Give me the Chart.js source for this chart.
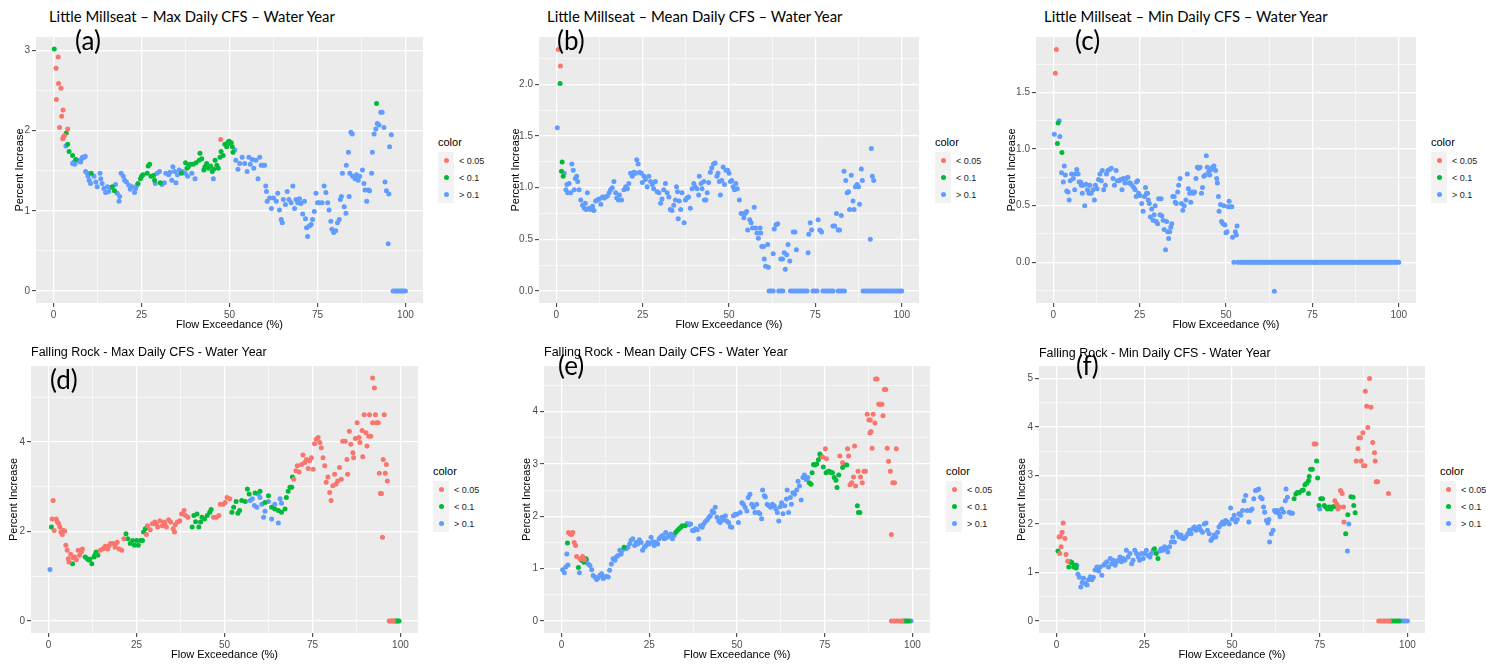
<!DOCTYPE html>
<html>
<head>
<meta charset="utf-8">
<script src="https://cdn.jsdelivr.net/npm/chart.js@4.4.1/dist/chart.umd.min.js"></script>
<style>
  body { margin: 0; width: 1486px; height: 664px; background: #fff; position: relative; overflow: hidden; font-family: "Liberation Sans", Arial, sans-serif; }
  canvas { position: absolute; }
  .ttl { position: absolute; white-space: nowrap; color: #000; line-height: 1.2; transform: translateY(-50%); }
  .ttl.lm { font-family: Lato, "Open Sans", sans-serif; font-size: 16px; }
  .ttl.fr { font-family: "Liberation Sans", Arial, sans-serif; font-size: 12px; }
  .tag { position: absolute; white-space: nowrap; font-family: Lato, "Open Sans", sans-serif; font-size: 26px; line-height: 1; color: #000; transform: translateY(-50%); }
  .legT { position: absolute; white-space: nowrap; font-size: 11px; color: #000; line-height: 1; transform: translateY(-50%); }
  .key { position: absolute; width: 16px; height: 17px; background: #F2F2F2; }
  .dot { position: absolute; width: 5px; height: 5px; border-radius: 50%; left: 5.5px; top: 6px; }
  .legL { position: absolute; white-space: nowrap; font-size: 9px; color: #222; line-height: 1; transform: translateY(-50%); }
</style>
</head>
<body>
<script>
// significance classes
const LEGEND_LABELS = ['< 0.05', '< 0.1', '> 0.1'];
const COLORS = ['#F8766D', '#00BA38', '#619CFF'];

// x axis (Flow Exceedance %)
const xTicks = [0, 25, 50, 75, 100];
const xMinor = [12.5, 37.5, 62.5, 87.5];

// y axis ticks per panel
const yTicksA = [0, 1, 2, 3];          const yMinorA = [0.5, 1.5, 2.5];
const yTicksB = [0, 0.5, 1, 1.5, 2];   const yMinorB = [0.25, 0.75, 1.25, 1.75, 2.25];
const yTicksC = [0, 0.5, 1, 1.5];      const yMinorC = [-0.25, 0.25, 0.75, 1.25, 1.75];
const yTicksD = [0, 2, 4];             const yMinorD = [1, 3, 5];
const yTicksE = [0, 1, 2, 3, 4];       const yMinorE = [0.5, 1.5, 2.5, 3.5, 4.5];
const yTicksF = [0, 1, 2, 3, 4, 5];    const yMinorF = [0.5, 1.5, 2.5, 3.5, 4.5];

// (a) Little Millseat - Max daily
const lmMaxP05 = [[0.7,2.78],[1.3,2.92],[1.4,2.59],[2.1,2.53],[0.8,2.39],[2.7,2.26],[2.3,2.18],[1.7,2.04],[4.0,2.02],[2.8,1.92],[3.1,1.94],[2.6,1.90],[47.5,1.89]];
const lmMaxP10 = [[0.2,3.02],[3.6,1.97],[4.0,1.83],[4.4,1.74],[5.4,1.69],[6.3,1.64],[10.7,1.47],[16.7,1.30],[17.3,1.25],[24.0,1.34],[24.7,1.40],[25.0,1.43],[25.4,1.45],[26.6,1.47],[26.9,1.56],[27.3,1.58],[27.7,1.43],[28.4,1.44],[28.7,1.38],[30.3,1.35],[36.3,1.47],[37.5,1.60],[37.9,1.53],[38.3,1.55],[38.8,1.58],[39.7,1.58],[40.5,1.60],[41.4,1.63],[41.6,1.72],[42.1,1.65],[42.7,1.51],[43.0,1.55],[43.5,1.59],[44.0,1.53],[44.6,1.56],[45.1,1.49],[45.5,1.52],[45.9,1.63],[46.4,1.57],[46.8,1.53],[47.3,1.67],[47.6,1.74],[48.2,1.69],[48.7,1.83],[49.2,1.80],[49.6,1.86],[49.9,1.87],[50.1,1.84],[50.5,1.85],[50.8,1.80],[51.0,1.73],[91.8,2.34]];
const lmMaxPns = [[3.5,1.81],[5.4,1.59],[5.8,1.61],[6.0,1.58],[6.8,1.63],[7.2,1.62],[7.7,1.61],[8.0,1.65],[8.2,1.67],[8.7,1.67],[9.0,1.68],[9.1,1.49],[9.6,1.47],[9.8,1.43],[10.1,1.38],[10.5,1.34],[11.5,1.43],[12.0,1.36],[12.4,1.30],[13.2,1.47],[13.4,1.40],[13.8,1.34],[14.3,1.28],[14.8,1.23],[15.3,1.30],[15.7,1.24],[16.2,1.29],[17.6,1.33],[18.1,1.22],[18.6,1.12],[18.8,1.18],[19.2,1.47],[19.8,1.43],[20.2,1.38],[20.7,1.36],[21.4,1.32],[21.8,1.27],[22.3,1.30],[23.0,1.23],[23.3,1.28],[23.7,1.32],[28.9,1.34],[29.4,1.47],[30.1,1.49],[30.8,1.33],[31.5,1.35],[31.9,1.47],[32.7,1.45],[33.1,1.48],[33.6,1.38],[33.9,1.55],[34.4,1.49],[34.8,1.35],[35.2,1.45],[35.7,1.51],[36.6,1.49],[37.4,1.47],[38.1,1.43],[39.3,1.47],[40.2,1.40],[45.4,1.40],[51.5,1.76],[51.8,1.63],[52.4,1.52],[52.9,1.59],[53.6,1.67],[54.3,1.59],[55.0,1.49],[55.5,1.67],[55.9,1.58],[56.5,1.64],[56.9,1.53],[57.5,1.63],[58.1,1.40],[58.6,1.67],[59.0,1.57],[59.5,1.57],[60.0,1.57],[60.3,1.31],[60.5,1.24],[60.7,1.12],[61.4,1.16],[61.9,1.03],[62.5,1.16],[63.3,1.12],[63.7,1.22],[64.2,1.01],[64.7,0.89],[65.0,0.85],[65.3,1.14],[65.9,1.08],[66.4,1.24],[66.9,1.14],[67.5,1.10],[68.0,1.31],[68.5,1.03],[68.9,1.14],[69.4,1.10],[69.9,1.15],[70.3,1.09],[70.8,0.96],[71.3,1.12],[71.6,0.90],[71.9,0.79],[72.2,0.68],[72.7,0.81],[73.2,0.83],[73.6,0.89],[74.1,0.99],[74.6,1.22],[75.0,1.10],[75.5,1.10],[76.3,1.10],[76.9,1.31],[77.4,1.23],[77.9,1.10],[78.3,1.01],[78.8,0.87],[79.1,0.77],[79.6,0.73],[80.2,0.75],[80.7,0.85],[81.2,0.89],[81.5,1.14],[81.8,1.18],[82.1,1.47],[82.6,1.05],[83.1,0.97],[83.2,1.57],[83.8,1.73],[84.0,1.18],[84.2,1.47],[84.5,1.98],[84.9,1.96],[85.0,1.43],[85.7,1.40],[86.1,1.45],[86.6,1.38],[87.0,1.43],[87.8,1.51],[88.2,1.34],[88.5,1.26],[89.0,1.12],[89.5,1.26],[89.8,1.25],[90.4,1.47],[90.6,1.73],[91.1,1.96],[91.6,2.02],[92.0,2.09],[92.5,2.07],[93.0,2.23],[93.4,2.23],[93.9,2.04],[94.2,1.36],[94.6,1.25],[95.1,0.59],[95.3,1.21],[95.5,1.80],[96.0,1.95],[96.5,0],[97,0],[97.5,0],[98,0],[98.5,0],[99,0],[99.5,0],[100,0]];

// (b) Little Millseat - Mean daily
const lmMeanP05 = [[0.6,2.34],[1.2,2.18]];
const lmMeanP10 = [[1.1,2.01],[1.7,1.25],[1.5,1.16],[2.0,1.11]];
const lmMeanPns = [[0.3,1.58],[2.3,1.14],[2.8,0.98],[3.1,1.03],[3.3,0.95],[3.7,1.04],[4.2,0.95],[4.5,1.23],[4.9,1.17],[5.2,0.98],[5.5,1.09],[5.9,1.11],[6.2,1.06],[6.6,0.98],[7.1,0.88],[7.6,0.83],[8.1,0.80],[8.4,0.85],[8.7,0.79],[9.0,0.95],[9.5,0.80],[10.0,0.79],[10.5,0.82],[10.9,0.78],[11.4,0.87],[11.9,0.88],[12.4,0.89],[12.9,0.84],[13.4,0.91],[13.8,0.90],[14.3,0.91],[14.8,0.92],[15.3,0.95],[15.7,0.98],[16.2,1.00],[16.7,1.06],[17.2,0.95],[17.5,0.90],[18.0,0.88],[18.3,0.93],[18.9,0.88],[19.6,0.98],[20.1,1.01],[20.6,0.99],[21.0,1.04],[21.5,1.14],[22.0,1.11],[22.5,1.15],[23.0,1.14],[23.3,1.27],[23.7,1.23],[24.1,1.15],[24.6,1.14],[24.9,1.05],[25.4,1.11],[25.8,1.08],[26.3,1.01],[26.8,1.11],[27.3,1.06],[27.8,1.03],[28.2,0.99],[28.7,1.06],[29.2,0.96],[29.7,0.95],[30.2,0.85],[30.6,0.89],[31.1,0.98],[31.6,1.04],[32.1,0.95],[32.6,0.91],[33.0,0.79],[33.5,0.78],[34.0,0.83],[34.5,0.88],[34.8,1.01],[35.1,0.96],[35.3,0.70],[35.6,0.87],[36.0,0.79],[36.4,0.95],[37.0,0.66],[37.4,0.88],[37.8,0.90],[38.3,0.91],[38.8,0.80],[39.3,0.99],[39.8,1.04],[40.2,1.01],[40.7,0.99],[41.2,0.93],[41.4,1.11],[41.9,1.04],[42.2,0.99],[42.7,1.06],[42.9,0.88],[43.3,0.88],[43.7,0.95],[44.1,1.05],[44.6,1.15],[45.0,1.19],[45.5,1.23],[46.0,1.24],[46.5,1.11],[46.8,1.14],[47.2,1.06],[47.5,0.93],[47.9,1.07],[48.3,1.20],[48.7,1.03],[49.1,1.17],[49.6,1.17],[50.0,1.14],[50.4,1.06],[50.8,1.07],[51.2,1.01],[51.6,0.98],[52.0,1.04],[52.4,0.99],[53.0,0.88],[53.5,0.75],[53.9,0.75],[54.3,0.71],[54.7,0.75],[55.1,0.77],[55.4,0.59],[56.0,0.69],[56.4,0.66],[56.8,0.61],[57.3,0.81],[57.7,0.61],[58.1,0.56],[58.5,0.51],[59.0,0.61],[59.2,0.56],[59.5,0.43],[60.0,0.43],[60.2,0.31],[60.6,0.24],[61.2,0.45],[61.4,0.23],[62.8,0.36],[63.1,0.60],[63.6,0.64],[64.1,0.65],[65.0,0.31],[65.5,0.31],[66.0,0.37],[66.3,0.21],[66.7,0.35],[67.1,0.45],[67.6,0.29],[68.6,0.57],[69.1,0.57],[69.5,0.40],[72.9,0.37],[73.1,0.55],[73.5,0.66],[73.9,0.59],[75.8,0.69],[76.3,0.59],[76.8,0.57],[80.1,0.63],[80.6,0.63],[81.1,0.75],[81.6,0.59],[82.0,0.59],[82.5,0.73],[83.3,1.16],[83.8,1.07],[84.2,0.95],[84.6,0.96],[84.9,0.79],[85.4,1.12],[85.9,0.87],[86.2,0.79],[86.6,1.01],[87.1,1.03],[87.5,1.01],[87.8,0.84],[88.3,1.18],[88.6,1.07],[90.9,0.50],[91.2,1.38],[91.5,1.11],[91.9,1.07],
  [61.6,0],[62.2,0],[62.8,0],[64.4,0],[65.0,0],[65.6,0],[67.8,0],[68.4,0],[69.0,0],[69.6,0],[70.2,0],[70.8,0],[71.4,0],[72.0,0],[72.6,0],[74.3,0],[74.9,0],[75.5,0],[77.2,0],[77.8,0],[78.4,0],[79.0,0],[79.6,0],[80.1,0],[81.6,0],[82.2,0],[82.8,0],[83.4,0],[88.8,0],[89.4,0],[90.0,0],[90.6,0],[91.2,0],[91.8,0],[92.4,0],[93.0,0],[93.6,0],[94.2,0],[94.8,0],[95.4,0],[96.0,0],[96.6,0],[97.2,0],[97.8,0],[98.4,0],[99.0,0],[99.6,0],[100,0]];

// (c) Little Millseat - Min daily
const lmMinP05 = [[0.9,1.88],[0.6,1.67]];
const lmMinP10 = [[1.4,1.23],[1.2,1.05],[2.5,0.97]];
const lmMinPns = [[0.3,1.13],[1.7,1.25],[1.9,1.11],[2.4,0.79],[2.9,0.71],[3.2,0.85],[3.5,0.77],[3.9,0.63],[4.3,0.62],[4.6,0.55],[4.9,0.72],[5.3,0.78],[5.8,0.74],[6.2,0.64],[6.4,0.78],[6.8,0.82],[7.2,0.78],[7.5,0.71],[7.9,0.71],[8.1,0.68],[8.4,0.61],[8.8,0.68],[9.1,0.50],[9.5,0.69],[9.9,0.64],[10.3,0.61],[10.6,0.68],[11.0,0.61],[11.5,0.64],[11.9,0.55],[12.2,0.68],[12.7,0.65],[13.1,0.73],[13.5,0.78],[13.9,0.72],[14.2,0.81],[14.6,0.64],[15.1,0.68],[15.4,0.78],[15.8,0.81],[16.3,0.82],[16.8,0.83],[17.3,0.74],[17.7,0.68],[18.2,0.81],[18.5,0.72],[19.0,0.72],[19.5,0.73],[19.9,0.64],[20.3,0.74],[20.7,0.70],[21.1,0.74],[21.6,0.75],[22.0,0.70],[22.3,0.70],[22.8,0.68],[23.3,0.66],[23.7,0.64],[24.1,0.71],[24.4,0.72],[24.0,0.58],[24.7,0.61],[25.1,0.59],[25.6,0.52],[26.0,0.45],[26.4,0.58],[26.7,0.66],[27.0,0.61],[27.3,0.61],[27.5,0.55],[27.8,0.52],[28.1,0.40],[28.5,0.47],[28.9,0.37],[29.2,0.42],[29.5,0.50],[29.8,0.36],[30.2,0.34],[30.5,0.56],[30.9,0.42],[31.2,0.56],[31.4,0.41],[31.8,0.37],[32.1,0.29],[32.5,0.11],[32.8,0.36],[33.1,0.27],[33.4,0.21],[33.7,0.27],[34.0,0.31],[34.3,0.34],[34.6,0.58],[35.0,0.58],[35.3,0.53],[35.6,0.52],[36.0,0.62],[36.3,0.68],[36.7,0.74],[37.1,0.52],[37.5,0.46],[37.9,0.50],[38.4,0.55],[38.8,0.78],[39.1,0.65],[39.5,0.61],[39.8,0.53],[40.2,0.62],[40.6,0.61],[40.9,0.62],[41.3,0.74],[41.7,0.84],[42.1,0.83],[42.5,0.84],[42.9,0.61],[43.2,0.66],[43.6,0.76],[44.0,0.77],[44.3,0.94],[44.6,0.84],[45.0,0.80],[45.3,0.77],[45.7,0.82],[46.1,0.84],[46.5,0.85],[47.0,0.81],[47.3,0.74],[47.5,0.70],[47.8,0.58],[48.0,0.45],[48.4,0.51],[48.7,0.36],[49.1,0.34],[49.4,0.50],[49.7,0.33],[50.0,0.26],[50.3,0.27],[50.6,0.49],[50.9,0.54],[51.3,0.49],[51.7,0.49],[51.9,0.22],[52.7,0.27],[53.0,0.24],[53.2,0.32],[64.0,-0.256],
  [52.3,0],[53.4,0],[54,0],[54.5,0],[55,0],[55.5,0],[56,0],[56.5,0],[57,0],[57.5,0],[58,0],[58.5,0],[59,0],[59.5,0],[60,0],[60.5,0],[61,0],[61.5,0],[62,0],[62.5,0],[63,0],[63.5,0],[64,0],[64.5,0],[65,0],[65.5,0],[66,0],[66.5,0],[67,0],[67.5,0],[68,0],[68.5,0],[69,0],[69.5,0],[70,0],[70.5,0],[71,0],[71.5,0],[72,0],[72.5,0],[73,0],[73.5,0],[74,0],[74.5,0],[75,0],[75.5,0],[76,0],[76.5,0],[77,0],[77.5,0],[78,0],[78.5,0],[79,0],[79.5,0],[80,0],[80.5,0],[81,0],[81.5,0],[82,0],[82.5,0],[83,0],[83.5,0],[84,0],[84.5,0],[85,0],[85.5,0],[86,0],[86.5,0],[87,0],[87.5,0],[88,0],[88.5,0],[89,0],[89.5,0],[90,0],[90.5,0],[91,0],[91.5,0],[92,0],[92.5,0],[93,0],[93.5,0],[94,0],[94.5,0],[95,0],[95.5,0],[96,0],[96.5,0],[97,0],[97.5,0],[98,0],[98.5,0],[99,0],[99.5,0],[100,0]];

// (d) Falling Rock - Max daily
const frMaxP05 = [[1.3,2.69],[1.0,2.28],[1.6,2.02],[2.2,2.28],[2.5,2.21],[2.9,2.17],[3.2,2.10],[3.5,1.99],[3.9,1.93],[4.2,2.02],[4.6,2.01],[4.9,1.69],[5.3,1.58],[5.6,1.39],[5.8,1.32],[6.3,1.49],[7.0,1.41],[7.4,1.43],[7.9,1.37],[8.4,1.58],[8.8,1.47],[9.3,1.54],[9.6,1.61],[14.7,1.58],[15.4,1.61],[15.9,1.64],[16.1,1.67],[16.8,1.61],[17.2,1.68],[17.6,1.73],[18.3,1.73],[18.9,1.65],[19.0,1.72],[19.5,1.76],[20.1,1.61],[20.8,1.58],[21.4,1.84],[27.8,1.93],[28.1,2.13],[28.9,2.04],[29.5,2.17],[30.2,2.21],[30.6,2.16],[31.0,2.10],[31.6,2.24],[32.3,2.13],[32.8,2.21],[33.0,2.18],[33.5,2.10],[34.1,2.26],[34.7,2.21],[35.4,2.06],[35.8,1.99],[36.0,2.15],[36.6,2.21],[37.3,2.24],[37.8,2.39],[38.5,2.47],[38.9,2.36],[39.6,2.32],[46.9,2.32],[47.7,2.32],[48.4,2.36],[48.8,2.61],[49.6,2.61],[50.2,2.65],[50.7,2.76],[51.5,2.73],[69.7,3.17],[70.3,3.36],[70.7,3.47],[71.2,3.33],[71.9,3.50],[72.3,3.71],[72.8,3.54],[73.3,3.61],[73.8,3.41],[74.2,3.58],[74.7,3.65],[75.2,3.39],[75.6,3.96],[76.1,4.06],[76.6,4.10],[77.1,3.99],[77.5,3.87],[78.0,3.65],[78.5,3.47],[78.9,3.10],[79.4,3.22],[79.9,2.87],[80.3,2.69],[80.8,3.02],[81.3,3.28],[81.7,3.06],[82.2,3.13],[82.7,3.43],[83.2,3.17],[83.6,4.02],[84.3,4.02],[84.8,3.61],[85.0,3.28],[85.5,4.24],[85.9,3.95],[86.5,3.76],[86.7,3.65],[87.2,4.08],[87.7,4.43],[88.2,4.10],[88.5,3.99],[89.1,4.26],[89.3,3.67],[89.7,4.61],[90.2,4.21],[90.5,3.91],[91.0,4.13],[91.2,4.61],[91.6,4.13],[92.1,5.43],[92.6,5.21],[92.1,4.43],[92.9,4.61],[93.2,4.43],[93.7,4.43],[94.0,3.30],[94.3,2.85],[94.6,2.85],[94.9,1.87],[95.1,3.61],[95.4,4.61],[95.7,3.30],[96.0,3.50],[96.3,3.13],[96.8,0],[97.2,0],[97.6,0],[98.0,0]];
const frMaxP10 = [[0.8,2.10],[6.8,1.28],[10.4,1.43],[11.0,1.39],[11.4,1.36],[11.7,1.38],[12.3,1.28],[12.9,1.43],[13.2,1.48],[13.5,1.54],[14.0,1.47],[22.0,1.95],[22.5,1.84],[23.2,1.73],[23.9,1.80],[24.4,1.69],[25.0,1.80],[25.5,1.69],[26.1,1.80],[26.7,1.80],[27.0,1.99],[27.5,2.06],[40.8,2.10],[41.3,2.36],[41.8,2.22],[42.2,2.39],[42.7,2.10],[43.2,2.21],[43.6,2.32],[44.3,2.28],[45.1,2.36],[45.8,2.43],[46.2,2.49],[52.1,2.43],[52.6,2.54],[53.3,2.67],[53.8,2.41],[54.3,2.47],[54.9,2.69],[55.9,2.67],[56.5,2.95],[57.0,2.84],[58.7,2.86],[60.1,2.90],[61.5,2.65],[62.5,2.80],[63.4,2.54],[64.3,2.50],[65.3,2.47],[66.2,2.43],[67.2,2.50],[67.6,2.76],[68.1,2.90],[68.6,2.99],[69.1,2.99],[69.3,3.22],[98.4,0],[98.8,0],[99.2,0],[99.6,0]];
const frMaxPns = [[0.4,1.15],[57.3,2.69],[57.9,2.73],[58.5,2.58],[59.2,2.54],[59.6,2.84],[60.1,2.76],[60.6,2.61],[61.1,2.32],[61.5,2.45],[62.5,2.67],[63.4,2.28],[64.3,2.61],[65.3,2.19],[65.8,2.73],[66.2,2.63]];

// (e) Falling Rock - Mean daily
const frMeanP05 = [[2.0,1.69],[2.4,1.66],[2.9,1.65],[3.2,1.69],[3.6,1.50],[4.0,1.44],[4.3,1.23],[5.3,1.19],[6.0,1.23],[6.5,1.17],[74.4,3.13],[75.2,3.29],[75.5,3.10],[79.3,3.15],[80.1,3.02],[81.5,3.29],[81.8,3.15],[82.2,2.60],[82.7,2.64],[83.2,2.75],[83.5,3.34],[83.8,2.58],[84.5,2.86],[85.2,2.75],[85.7,2.64],[86.2,2.86],[86.6,2.86],[87.1,3.95],[87.6,3.84],[88.0,3.84],[87.9,3.59],[88.2,3.62],[88.5,3.30],[88.8,3.95],[89.3,3.78],[89.5,4.62],[89.9,4.62],[90.4,4.14],[90.9,4.14],[91.3,4.14],[91.6,3.92],[92.0,4.42],[92.4,4.42],[92.8,3.30],[93.2,3.05],[93.7,2.86],[94.0,1.65],[94.4,2.64],[94.9,2.64],[95.4,3.29],[94.0,0],[94.8,0],[95.6,0],[96.4,0],[97.0,0]];
const frMeanP10 = [[1.7,1.49],[4.8,1.02],[5.7,1.16],[6.4,1.12],[7.0,1.19],[17.8,1.41],[32.5,1.69],[33.0,1.73],[33.5,1.76],[34.0,1.79],[34.4,1.82],[35.2,1.82],[70.6,2.64],[71.1,2.61],[71.4,2.83],[71.8,2.99],[72.2,2.98],[72.7,3.00],[73.2,3.08],[73.6,3.19],[73.9,3.15],[74.6,2.94],[75.4,2.83],[75.8,2.85],[76.3,2.86],[76.8,2.83],[77.2,2.83],[77.7,2.74],[78.2,2.69],[78.5,2.55],[79.0,2.79],[80.1,2.93],[80.5,2.99],[81.3,2.98],[84.3,2.20],[84.6,2.07],[85.0,2.07],[97.5,0],[98.0,0],[98.5,0],[99.0,0]];
const frMeanPns = [[0.3,0.98],[0.8,0.92],[1.2,1.03],[1.5,1.28],[1.8,1.07],[5.1,0.92],[7.1,1.16],[7.6,1.09],[8.1,1.06],[8.6,0.98],[9.0,0.87],[9.5,0.84],[10.0,0.79],[10.4,0.82],[10.9,0.87],[11.4,0.90],[11.9,0.81],[12.3,0.84],[12.8,0.85],[13.3,0.84],[13.7,0.97],[14.2,1.09],[14.7,1.19],[15.2,1.16],[15.6,1.22],[16.1,1.25],[16.6,1.35],[17.0,1.28],[17.3,1.35],[18.4,1.38],[18.9,1.41],[19.4,1.47],[19.8,1.54],[20.3,1.57],[20.8,1.44],[21.3,1.50],[21.7,1.47],[22.2,1.55],[22.7,1.50],[23.1,1.35],[23.6,1.41],[24.1,1.44],[24.6,1.50],[25.0,1.47],[25.5,1.60],[26.0,1.52],[26.4,1.44],[26.9,1.50],[27.4,1.47],[27.8,1.57],[28.3,1.61],[28.8,1.63],[29.3,1.57],[29.7,1.69],[30.2,1.60],[30.7,1.63],[31.1,1.66],[31.6,1.57],[32.1,1.63],[35.8,1.86],[36.3,1.84],[36.8,1.85],[37.3,1.73],[37.7,1.73],[38.2,1.76],[38.7,1.74],[39.1,1.57],[39.6,1.82],[40.1,1.79],[40.5,1.85],[41.0,1.90],[41.5,1.93],[42.0,1.98],[42.4,2.01],[42.9,2.10],[43.4,2.07],[43.8,2.17],[44.3,1.98],[44.8,1.91],[45.2,1.88],[45.7,1.98],[46.2,1.93],[46.7,2.01],[47.1,1.91],[47.6,1.88],[48.1,1.80],[48.5,1.79],[49.0,2.01],[49.5,2.04],[50.0,2.04],[50.4,1.88],[50.9,2.07],[51.4,2.26],[51.8,2.23],[52.3,2.17],[52.8,2.10],[53.2,2.36],[53.7,2.42],[54.2,2.23],[54.7,2.17],[55.1,2.07],[55.6,2.23],[56.1,2.07],[56.5,2.05],[57.0,1.95],[57.3,2.50],[57.8,2.39],[58.1,2.37],[58.6,2.23],[59.1,2.20],[59.6,2.17],[60.1,2.23],[60.6,2.20],[61.1,2.14],[61.5,2.07],[61.9,1.91],[62.3,2.18],[62.7,2.26],[63.1,2.05],[63.6,2.20],[64.1,2.33],[64.3,2.50],[64.7,2.07],[65.2,2.36],[65.5,2.23],[65.9,2.45],[66.4,2.42],[67.0,2.50],[67.4,2.67],[67.8,2.58],[68.3,2.31],[68.8,2.74],[69.2,2.79],[69.7,2.70],[70.2,2.74],[99.6,0]];

// (f) Falling Rock - Min daily
const frMinP05 = [[0.9,1.39],[0.7,1.73],[1.3,1.53],[1.1,1.74],[1.6,1.83],[1.9,2.02],[2.4,1.70],[2.7,1.37],[3.2,1.23],[73.4,3.65],[73.9,3.65],[79.3,2.48],[79.8,2.41],[80.2,2.31],[80.7,2.35],[80.9,2.69],[81.4,2.63],[81.8,2.35],[81.9,2.04],[85.4,3.30],[85.9,3.56],[86.2,3.78],[86.6,3.78],[86.8,3.30],[87.3,3.88],[87.5,3.20],[87.9,3.20],[88.0,4.74],[88.4,4.43],[88.7,3.99],[89.2,5.00],[89.6,4.41],[90.1,3.68],[90.6,3.47],[90.8,3.30],[91.1,2.87],[91.5,2.87],[94.6,2.63],[91.8,0],[92.4,0],[93.0,0],[93.6,0],[94.2,0],[94.8,0]];
const frMinP10 = [[0.4,1.44],[3.5,1.11],[4.0,1.22],[4.4,1.20],[4.9,1.11],[5.4,1.15],[5.6,1.09],[27.9,1.49],[28.4,1.39],[28.9,1.29],[67.7,2.52],[68.2,2.62],[68.6,2.65],[69.2,2.65],[69.9,2.69],[70.3,2.70],[70.8,2.81],[71.3,2.84],[71.8,2.89],[71.8,2.63],[72.0,2.98],[72.4,3.13],[72.9,3.13],[74.1,3.30],[74.4,2.95],[74.8,2.38],[75.3,2.52],[75.8,2.52],[76.3,2.38],[76.7,2.35],[77.2,2.31],[77.7,2.35],[78.2,2.31],[78.6,2.35],[79.1,2.36],[82.4,1.80],[83.0,2.19],[83.9,2.56],[84.5,2.55],[84.7,2.38],[85.1,2.23],[95.3,0],[95.9,0],[96.5,0],[97.1,0],[97.6,0]];
const frMinPns = [[5.8,1.15],[6.1,0.96],[6.5,0.90],[6.9,0.70],[7.3,0.79],[7.7,0.88],[8.2,0.77],[8.7,0.74],[9.1,0.85],[9.6,0.91],[10.1,0.85],[10.5,0.90],[11.0,1.05],[11.5,1.11],[12.0,1.03],[12.4,1.11],[12.9,0.94],[13.4,1.15],[13.8,1.18],[14.3,1.22],[14.8,1.11],[15.3,1.29],[15.7,1.18],[16.2,1.25],[16.7,1.15],[17.1,1.22],[17.6,1.25],[18.1,1.32],[18.5,1.22],[19.0,1.29],[19.5,1.25],[19.9,1.46],[20.4,1.32],[20.9,1.39],[21.4,1.18],[21.8,1.25],[22.3,1.46],[22.8,1.39],[23.3,1.32],[23.7,1.25],[24.2,1.39],[24.7,1.29],[25.1,1.39],[25.6,1.46],[26.1,1.35],[26.6,1.32],[27.0,1.39],[27.5,1.46],[29.4,1.44],[29.8,1.49],[30.3,1.46],[30.8,1.53],[31.3,1.49],[31.7,1.42],[32.2,1.53],[32.7,1.63],[33.1,1.73],[33.6,1.63],[34.1,1.83],[34.6,1.79],[35.0,1.73],[35.5,1.77],[36.0,1.70],[36.4,1.70],[36.9,1.74],[37.4,1.80],[37.9,1.87],[38.3,1.80],[38.8,1.90],[39.3,1.94],[39.7,1.87],[40.2,1.90],[40.7,1.95],[41.1,1.87],[41.6,1.83],[42.1,2.00],[42.6,2.02],[43.0,1.87],[43.5,1.80],[44.0,1.66],[44.4,1.70],[44.9,1.77],[45.4,1.73],[45.9,1.83],[46.3,1.94],[46.8,1.99],[47.3,2.04],[47.7,2.00],[48.2,2.07],[48.7,2.04],[49.2,2.00],[49.6,2.33],[50.1,2.10],[50.6,2.18],[51.1,2.04],[51.5,2.09],[52.0,2.21],[52.5,2.18],[53.0,2.28],[53.4,2.48],[53.9,2.59],[54.3,2.28],[54.8,2.04],[55.3,2.28],[55.7,2.31],[56.2,2.52],[56.7,2.69],[57.2,2.70],[57.6,2.72],[58.1,2.55],[58.6,2.52],[59.0,2.35],[59.3,2.24],[59.8,2.07],[60.2,2.02],[60.5,2.09],[60.7,1.63],[61.2,1.80],[61.7,1.87],[62.1,2.28],[62.5,2.24],[63.0,2.28],[63.4,2.21],[63.7,2.15],[64.2,2.31],[64.7,2.24],[65.2,2.48],[65.4,2.72],[65.8,2.55],[66.3,2.24],[66.8,2.22],[67.2,2.22],[75.0,2.31],[82.9,1.44],[83.3,2.00],[98.1,0],[98.7,0],[99.3,0],[100,0]];

const panels = [
  { title: 'Little Millseat – Max Daily CFS – Water Year', cls: 'lm', tag: '(a)', sets: [lmMaxP05, lmMaxP10, lmMaxPns],
    yTicks: yTicksA, yMinor: yMinorA, dec: 0, yMin: -0.151, yMax: 3.17,
    L: 36, R: 423, T: 35, B: 303, yTitleX: 20, titleAt: [49, 17, 286], tagAt: [75, 40], legAt: [438, 142] },
  { title: 'Little Millseat – Mean Daily CFS – Water Year', cls: 'lm', tag: '(b)', sets: [lmMeanP05, lmMeanP10, lmMeanPns],
    yTicks: yTicksB, yMinor: yMinorB, dec: 1, yMin: -0.117, yMax: 2.46,
    L: 539, R: 919, T: 35, B: 303, yTitleX: 516, titleAt: [547, 17, 296], tagAt: [557, 40], legAt: [935, 142] },
  { title: 'Little Millseat – Min Daily CFS – Water Year', cls: 'lm', tag: '(c)', sets: [lmMinP05, lmMinP10, lmMinPns],
    yTicks: yTicksC, yMinor: yMinorC, dec: 1, yMin: -0.36, yMax: 1.99,
    L: 1036, R: 1416, T: 35, B: 303, yTitleX: 1012, titleAt: [1044, 17, 284], tagAt: [1075, 40], legAt: [1431, 142] },
  { title: 'Falling Rock - Max Daily CFS - Water Year', cls: 'fr', tag: '(d)', sets: [frMaxP05, frMaxP10, frMaxPns],
    yTicks: yTicksD, yMinor: yMinorD, dec: 0, yMin: -0.27, yMax: 5.70,
    L: 31, R: 418, T: 364, B: 633, yTitleX: 14, titleAt: [31, 353, 236], tagAt: [50, 379], legAt: [433, 471] },
  { title: 'Falling Rock - Mean Daily CFS - Water Year', cls: 'fr', tag: '(e)', sets: [frMeanP05, frMeanP10, frMeanPns],
    yTicks: yTicksE, yMinor: yMinorE, dec: 0, yMin: -0.23, yMax: 4.87,
    L: 544, R: 930, T: 364, B: 633, yTitleX: 527, titleAt: [544, 353, 244], tagAt: [558, 365], legAt: [946, 471] },
  { title: 'Falling Rock - Min Daily CFS - Water Year', cls: 'fr', tag: '(f)', sets: [frMinP05, frMinP10, frMinPns],
    yTicks: yTicksF, yMinor: yMinorF, dec: 0, yMin: -0.25, yMax: 5.26,
    L: 1039, R: 1425, T: 364, B: 633, yTitleX: 1022, titleAt: [1039, 353, 232], tagAt: [1076, 365], legAt: [1440, 471] }
];

// grey ggplot panel
const panelBg = {
  id: 'panelBg',
  beforeDraw(chart) {
    const { ctx, chartArea: a } = chart;
    ctx.save();
    ctx.fillStyle = '#EBEBEB';
    ctx.fillRect(a.left, a.top, a.right - a.left, a.bottom - a.top);
    ctx.restore();
  }
};

function axisOpts(min, max, majors, minors, dec, title, size, isX) {
  const all = majors.concat(minors).sort((a, b) => a - b);
  const isMajor = c => c.tick && majors.includes(c.tick.value);
  return {
    type: 'linear', min, max,
    afterBuildTicks: s => { s.ticks = all.map(v => ({ value: v })); },
    afterFit: s => { if (isX) s.height = size; else s.width = size; },
    grid: {
      color: '#FFFFFF',
      lineWidth: c => isMajor(c) ? 1.3 : 0.6,
      tickColor: c => isMajor(c) ? '#333333' : 'rgba(0,0,0,0)',
      tickLength: 4,
      tickWidth: 1
    },
    border: { display: false },
    ticks: {
      autoSkip: false, maxRotation: 0, padding: 2, color: '#4D4D4D',
      font: { family: 'Liberation Sans', size: 10 },
      callback: v => majors.includes(v) ? v.toFixed(dec) : ''
    },
    title: { display: true, text: title, color: '#000', font: { family: 'Liberation Sans', size: 11 }, padding: 0 }
  };
}

function addDiv(cls, text, x, y) {
  const d = document.createElement('div');
  d.className = cls;
  d.textContent = text;
  d.style.left = x + 'px';
  d.style.top = y + 'px';
  document.body.appendChild(d);
  return d;
}

function addLegend(x, y) {
  addDiv('legT', 'color', x, y);
  COLORS.forEach((c, i) => {
    const k = addDiv('key', '', x, y + 10 + i * 17);
    const dot = document.createElement('div');
    dot.className = 'dot';
    dot.style.background = c;
    k.appendChild(dot);
    addDiv('legL', LEGEND_LABELS[i], x + 21, y + 18.5 + i * 17);
  });
}

const X_AXIS_H = 29;

panels.forEach(p => {
  const left = Math.round(p.yTitleX - 6.6);
  const top = p.T - 6;
  const w = p.R + 6 - left;
  const h = p.B + X_AXIS_H - top;
  const cv = document.createElement('canvas');
  cv.width = w; cv.height = h;
  cv.style.left = left + 'px'; cv.style.top = top + 'px';
  cv.style.width = w + 'px'; cv.style.height = h + 'px';
  document.body.appendChild(cv);

  new Chart(cv, {
    type: 'scatter',
    data: {
      datasets: p.sets.map((s, i) => ({
        label: LEGEND_LABELS[i],
        data: s.map(([x, y]) => ({ x, y })),
        pointBackgroundColor: COLORS[i],
        pointBorderWidth: 0,
        pointRadius: 2.5
      }))
    },
    options: {
      responsive: false,
      animation: false,
      devicePixelRatio: 1,
      layout: { padding: { top: 6, right: 6, left: 0, bottom: 0 } },
      plugins: { legend: { display: false }, tooltip: { enabled: false } },
      scales: {
        x: axisOpts(-5, 105, xTicks, xMinor, 0, 'Flow Exceedance (%)', X_AXIS_H, true),
        y: axisOpts(p.yMin, p.yMax, p.yTicks, p.yMinor, p.dec, 'Percent Increase', p.L - left, false)
      }
    },
    plugins: [panelBg]
  });

  // title, fitted to the width it has in the figure
  const t = addDiv('ttl ' + p.cls, p.title, p.titleAt[0], p.titleAt[1]);
  const base = parseFloat(getComputedStyle(t).fontSize);
  t.style.fontSize = (base * p.titleAt[2] / t.getBoundingClientRect().width) + 'px';

  addDiv('tag', p.tag, p.tagAt[0], p.tagAt[1]);
  addLegend(p.legAt[0], p.legAt[1]);
});
</script>
</body>
</html>
